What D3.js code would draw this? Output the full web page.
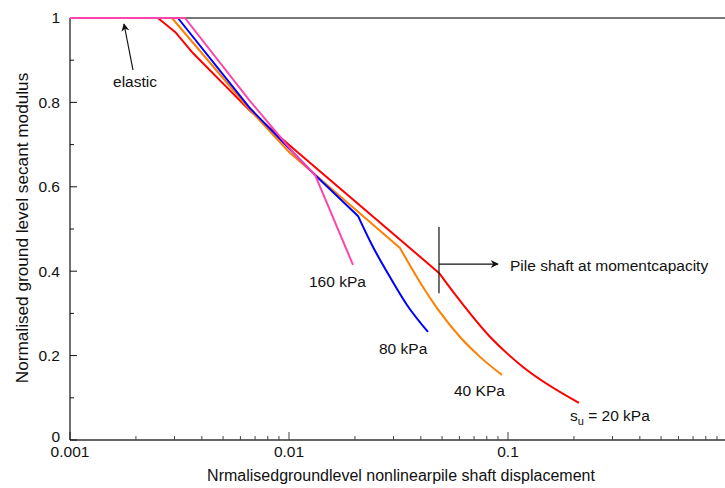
<!DOCTYPE html>
<html><head><meta charset="utf-8">
<script src="https://cdn.jsdelivr.net/npm/d3@7"></script>
<style>
body{margin:0;background:#fff;}
text{font-family:"Liberation Sans",Arial,sans-serif;fill:#111;}
</style></head>
<body>
<svg id="c" width="725" height="488"></svg>
<script>
// Data (x = normalised displacement, y = normalised secant modulus)
// "Pre" = elastic plateau and near-linear branch up to the kink, "Post" = curved branch after the kink
const redPre = [[0.001,1],[0.00252,1],[0.00302,0.967],[0.00364,0.917],[0.00664,0.780],[0.01065,0.687],[0.0484,0.396]];
const redPost = [[0.0484,0.396],[0.0585,0.339],[0.0829,0.244],[0.1171,0.173],[0.211,0.088]];
const orangePre = [[0.001,1],[0.00292,1],[0.00372,0.936],[0.00664,0.782],[0.01011,0.680],[0.03211,0.455]];
const orangePost = [[0.03211,0.455],[0.03964,0.374],[0.04891,0.303],[0.06037,0.244],[0.07447,0.197],[0.0939,0.154]];
const bluePre = [[0.001,1],[0.00311,1],[0.00664,0.786],[0.01315,0.628],[0.02065,0.531]];
const bluePost = [[0.02065,0.531],[0.02393,0.462],[0.02892,0.386],[0.03458,0.320],[0.04312,0.256]];
const pinkPre = [[0.001,1],[0.00335,1],[0.00664,0.803],[0.01088,0.671],[0.01315,0.628]];
const pinkPost = [[0.01315,0.628],[0.0196,0.415]];
const seriesColors = ["#ff0000","#ff7f00","#0000ff","#ff44aa"];
const xMajor = [0.001,0.01,0.1];
const xTickLabels = ["0.001","0.01","0.1"];
const yMajor = [0,0.2,0.4,0.6,0.8,1];
const yTickLabels = ["0","0.2","0.4","0.6","0.8","1"];
const yMinor = [0.1,0.3,0.5,0.7,0.9];

const svg = d3.select("#c");
const x = d3.scaleLog().domain([0.001,1]).range([70,727]);
const y = d3.scaleLinear().domain([0,1]).range([440,18]);

// top reference line at y=1
svg.append("line").attr("x1",70).attr("x2",725).attr("y1",y(1)).attr("y2",y(1))
  .attr("stroke","#777").attr("stroke-width",2);

// x axis
const xMinor = [];
[0.001,0.01,0.1].forEach(d=>{for(let k=2;k<=9;k++) xMinor.push(d*k);});
svg.append("line").attr("x1",70).attr("x2",725).attr("y1",y(0)).attr("y2",y(0))
  .attr("stroke","#666").attr("stroke-width",2);
const gx = svg.append("g");
gx.selectAll("line.mi").data(xMinor).join("line").attr("class","mi")
  .attr("x1",d=>x(d)).attr("x2",d=>x(d)).attr("y1",y(0)).attr("y2",y(0)-4)
  .attr("stroke","#444").attr("stroke-width",1);
gx.selectAll("line.ma").data(xMajor).join("line").attr("class","ma")
  .attr("x1",d=>x(d)).attr("x2",d=>x(d)).attr("y1",y(0)).attr("y2",y(0)-8)
  .attr("stroke","#444").attr("stroke-width",1);
gx.selectAll("text").data(xMajor).join("text")
  .attr("x",d=>x(d)).attr("y",y(0)+17).attr("text-anchor","middle")
  .attr("font-size",15.5).text((d,i)=>xTickLabels[i]);

// y axis
svg.append("line").attr("x1",70).attr("x2",70).attr("y1",y(0)).attr("y2",y(1))
  .attr("stroke","#111").attr("stroke-width",1.2);
const gy = svg.append("g");
gy.selectAll("line.ma").data(yMajor).join("line").attr("class","ma")
  .attr("x1",70).attr("x2",77).attr("y1",d=>y(d)).attr("y2",d=>y(d))
  .attr("stroke","#111");
gy.selectAll("line.mi").data(yMinor).join("line").attr("class","mi")
  .attr("x1",70).attr("x2",74).attr("y1",d=>y(d)).attr("y2",d=>y(d))
  .attr("stroke","#111");
gy.selectAll("text").data(yMajor).join("text")
  .attr("x",60).attr("y",d=>y(d)).attr("dy",d=>d===0?"0.15em":"0.35em")
  .attr("text-anchor","end").attr("font-size",15.5).text((d,i)=>yTickLabels[i]);

// axis titles
svg.append("text").attr("x",401).attr("y",481).attr("text-anchor","middle")
  .attr("font-size",16)
  .text("Nrmalisedgroundlevel nonlinearpile shaft displacement");
svg.append("text").attr("transform","translate(28,228) rotate(-90)")
  .attr("text-anchor","middle").attr("font-size",17.2)
  .text("Normalised ground level secant modulus");

// curves
const lineLin = d3.line().x(d=>x(d[0])).y(d=>y(d[1]));
const lineSmooth = d3.line().x(d=>x(d[0])).y(d=>y(d[1])).curve(d3.curveMonotoneX);
[[redPre,redPost],[orangePre,orangePost],[bluePre,bluePost],[pinkPre,pinkPost]].forEach((s,i)=>{
  const d = lineLin(s[0]) + lineSmooth(s[1]).replace(/^M[^LC]*/,"");
  svg.append("path").attr("d",d).attr("fill","none")
    .attr("stroke",seriesColors[i]).attr("stroke-width",2).attr("stroke-linejoin","round");
});

// arrow markers
const defs = svg.append("defs");
defs.append("marker").attr("id","ah").attr("viewBox","0 0 10 10").attr("refX",9).attr("refY",5)
  .attr("markerWidth",12).attr("markerHeight",8).attr("markerUnits","userSpaceOnUse")
  .attr("orient","auto").append("path").attr("d","M0,0 L10,5 L0,10 L3,5 Z").attr("fill","#111");

// elastic annotation
svg.append("line").attr("x1",133).attr("y1",70).attr("x2",124).attr("y2",24)
  .attr("stroke","#111").attr("stroke-width",1.2).attr("marker-end","url(#ah)");
svg.append("text").attr("x",135).attr("y",87).attr("text-anchor","middle").attr("font-size",15.5).text("elastic");

// pile shaft annotation
const xk = 0.0484;
svg.append("line").attr("x1",x(xk)).attr("x2",x(xk)).attr("y1",y(0.505)).attr("y2",y(0.348))
  .attr("stroke","#111").attr("stroke-width",1.2);
svg.append("line").attr("x1",x(xk)).attr("x2",x(0.09)).attr("y1",y(0.417)).attr("y2",y(0.417))
  .attr("stroke","#111").attr("stroke-width",1.2).attr("marker-end","url(#ah)");
svg.append("text").attr("x",510).attr("y",271).attr("font-size",15.5)
  .text("Pile shaft at momentcapacity");

// series labels
const lab = (tx,ty,t)=>svg.append("text").attr("x",tx).attr("y",ty).attr("font-size",15.5).text(t);
lab(309,287,"160 kPa");
lab(379,354,"80 kPa");
lab(454,396,"40 KPa");
const su = svg.append("text").attr("x",570).attr("y",421).attr("font-size",15.5);
su.append("tspan").text("s");
su.append("tspan").attr("font-size",11).attr("dy",4).text("u");
su.append("tspan").attr("dy",-4).text(" = 20 kPa");
</script>
</body></html>
